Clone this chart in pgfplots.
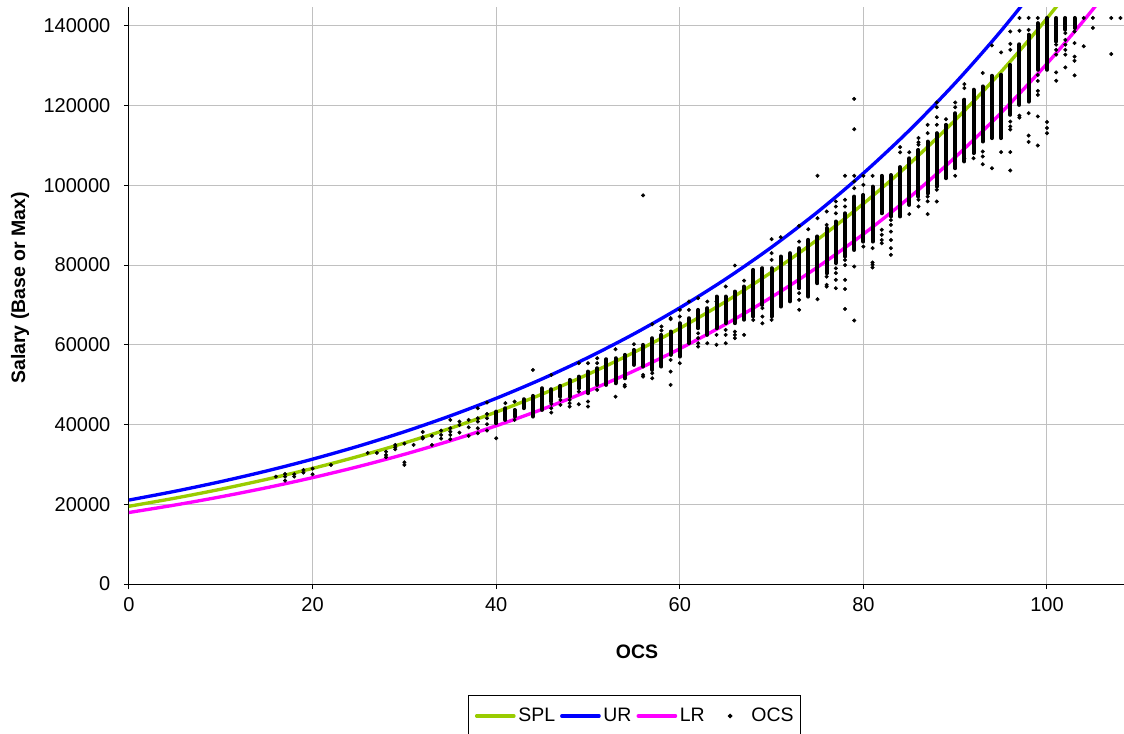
\documentclass[border=0pt]{standalone}
\usepackage{fontspec}
\setmainfont{Liberation Sans}
\usepackage{pgfplots}
\usepackage{pgfplotstable}
\pgfplotsset{compat=1.18}

\definecolor{splgreen}{HTML}{99CC00}
\definecolor{lrmagenta}{HTML}{FF00FF}
\definecolor{gridgray}{HTML}{C0C0C0}
\newcommand{\chartfont}{\fontsize{14.6}{17}\selectfont}

% pay lines, every 5 OCS
\pgfplotstableread{
x spl ur lr
0 19500 21060 17940
5 21535 23258 19812
10 23782 25685 21879
15 26263 28364 24162
20 29003 31323 26683
25 32029 34591 29467
30 35370 38200 32540
35 39060 42185 35935
40 43135 46586 39684
45 47635 51446 43824
50 52605 56813 48397
55 58093 62740 53446
60 64154 69286 59022
65 70847 76515 65179
70 78238 84497 71979
75 86400 93312 79488
80 95414 103047 87781
85 105368 113797 96939
90 116361 125670 107052
95 128500 138780 118220
100 141906 153258 130554
105 156711 169248 144174
110 173060 186905 159215
}\paylines

% solid part of each OCS column: lowest and highest salary
\pgfplotstableread{
x low high
40 40330 43250
41 41160 44090
42 41990 43670
43 44100 46350
44 42000 47190
45 43670 49110
46 45760 48860
47 47000 49700
48 47000 51200
49 49110 52030
50 47860 53300
51 49950 54130
52 49950 56390
53 50360 56640
54 51600 57480
55 54970 58730
56 54550 59990
57 53700 61660
58 54550 62500
59 57480 63340
60 57060 65425
61 60400 66680
62 64170 68770
63 62500 69200
64 64170 72120
65 65430 72120
66 65430 73370
67 66300 74630
68 67100 78800
69 70000 79230
70 67100 79230
71 69600 82160
72 70900 83000
73 74200 84250
74 72100 86350
75 75450 87200
76 77950 89300
77 80500 90950
78 82150 93000
79 83800 97200
80 85900 97600
81 85900 99700
82 93000 102400
83 92200 102600
84 92200 104600
85 95100 106800
86 97200 108900
87 98000 111000
88 99700 113100
89 101800 115200
90 104300 118100
91 106000 121500
92 108100 124000
93 111000 124830
94 111850 127500
95 111850 127760
96 117700 130230
97 120200 135400
98 121000 137800
99 129000 140700
100 129000 142000
101 136100 142000
102 139050 142000
103 139470 142000
}\ocscols

\begin{document}
\begin{tikzpicture}
\useasboundingbox (-96.75pt,-111.75pt) rectangle (746.25pt,438pt);
\begin{axis}[
    scale only axis,
    width=746.25pt, height=432.75pt,
    xmin=0, xmax=108.39,
    ymin=0, ymax=144750,
    axis x line*=bottom, axis y line*=left,
    axis line style={-, black, line width=0.75pt},
    xtick={0,20,40,60,80,100},
    ytick={0,20000,40000,60000,80000,100000,120000,140000},
    xticklabels={0,20,40,60,80,100},
    yticklabels={0,20000,40000,60000,80000,100000,120000,140000},
    scaled y ticks=false,
    tick align=outside, tick style={black, line width=0.75pt},
    major tick length=3.75pt,
    grid=major,
    grid style={gridgray, line width=0.75pt},
    tick label style={font=\fontsize{15}{17}\selectfont},
    xticklabel style={yshift=-3pt},
    yticklabel style={xshift=-6.75pt},
    xlabel={\bfseries OCS}, ylabel={\bfseries Salary (Base or Max)},
    label style={font=\chartfont},
    xlabel style={at={(rel axis cs:0.5106,-0.118)}, anchor=center},
    ylabel style={at={(rel axis cs:-0.1095,0.513)}, anchor=center},
    legend columns=4,
    legend style={
        at={(rel axis cs:0.508,-0.1924)}, anchor=north,
        draw=black, line width=0.75pt, font=\chartfont,
        inner xsep=3pt, inner ysep=7.5pt,
    },
    legend image code/.code={
        \path[draw=none, fill=none] (-3pt,-1pt) rectangle (28pt,1pt);
        \draw[mark repeat=2, mark phase=2, #1]
            plot coordinates {(0pt,0pt) (14pt,0pt) (28pt,0pt)};
    },
]
\addplot[splgreen, line width=2.5pt, smooth, line cap=round] table[x=x, y=spl] {\paylines};
\addlegendentry{SPL}
\addplot[blue, line width=2.5pt, smooth, line cap=round] table[x=x, y=ur] {\paylines};
\addlegendentry{UR}
\addplot[lrmagenta, line width=2.5pt, smooth, line cap=round] table[x=x, y=lr] {\paylines};
\addlegendentry{LR}

\addplot[forget plot, draw=none, mark=none,
    error bars/.cd, y dir=plus, y explicit, error mark=none,
    error bar style={black, solid, line width=3pt, line cap=round}]
    table[x=x, y=low, y error expr=\thisrow{high}-\thisrow{low}] {\ocscols};

\addplot[only marks, mark=*, mark size=1.3pt, black] coordinates {
(16,26940)(17,27600)(17,26940)(17,25940)(18,27530)(18,26940)(19,28600)(19,27940)
(20,28950)(20,27530)(22,29870)(26,32880)(27,32880)(28,33200)(28,32380)(28,31800)
(29,34890)(29,34300)(29,33800)(30,35220)(30,30540)(30,29870)(31,34890)
(32,38150)(32,36810)(32,36480)(33,37150)(33,34890)(34,38490)(34,37400)(34,36480)
(35,41160)(35,39070)(35,38230)(35,37400)(35,36310)(36,40740)(36,39900)(36,37980)
(37,41160)(37,39320)(37,37150)(38,44090)(38,41580)(38,40740)(38,39070)(38,37810)
(39,45515)(39,42670)(39,41580)(39,40080)(39,38490)(40,36560)(41,45350)
(42,45760)(42,41160)(44,53700)(46,52460)(46,45180)(46,44100)(46,43000)
(47,46180)(47,44930)(48,46180)(48,45350)(48,44510)(49,55400)(49,48270)(49,45100)
(50,55400)(50,45760)(50,44510)(51,56640)(51,55400)(51,48690)(53,58900)(53,47000)
(54,49950)(54,49530)(55,60150)(56,97500)(56,52450)(56,52030)(57,65175)(57,52880)(57,51600)
(58,64590)(58,63600)(59,66430)(59,66680)(59,56220)(59,53300)(59,49950)
(60,68770)(60,67100)(60,55400)(61,70860)(61,68770)
(62,71700)(62,62900)(62,61700)(62,60400)(62,59570)(63,70860)(63,60400)
(64,70860)(64,62500)(64,60000)(65,74630)(65,63750)(65,62500)(65,60400)
(66,79900)(66,63300)(66,62500)(66,61660)(67,76100)(67,62500)(68,66250)
(69,69200)(69,67100)(69,65400)(70,86500)(70,83000)(70,81300)(70,66250)(71,87000)
(73,89850)(73,85900)(73,72950)(73,71300)(73,68800)(74,89000)
(75,102400)(75,91780)(75,71450)(76,93450)(76,90100)(76,77100)(76,75050)(76,74600)
(77,95960)(77,94700)(77,93000)(77,79200)(77,78000)(77,76300)(77,74200)
(78,102400)(78,96400)(78,94700)(78,81300)(78,80000)(78,76300)(78,74000)(78,69000)
(79,121700)(79,114100)(79,102400)(79,101000)(79,99300)(79,79650)(79,66100)
(80,102400)(80,100150)(80,84650)(81,102400)(81,84250)(81,80650)(81,80100)(81,79400)
(82,88850)(82,87600)(82,86300)(82,85500)
(83,91300)(83,90100)(83,88400)(83,86300)(83,84250)(83,82580)
(84,109600)(84,108300)(85,108300)(85,92800)
(86,111900)(86,110800)(86,110200)(86,96400)(86,94700)
(87,115200)(87,113100)(87,97200)(87,96000)(87,92800)
(88,120800)(88,119600)(88,117100)(88,115200)(88,98900)(88,95960)
(89,116600)(90,120800)(90,119600)(90,102400)
(91,125400)(91,124400)(91,106700)(92,106800)
(93,128200)(93,108500)(93,107250)(93,105300)(94,135100)(94,104300)
(95,133360)(95,108350)(96,138600)(96,135500)(96,134000)(96,116000)(96,114800)(96,114000)(96,108350)(96,103750)
(97,142000)(97,138800)(97,117500)(97,117000)
(98,142000)(98,139000)(98,118100)(98,112500)(98,110900)
(99,142000)(99,127700)(99,126200)(99,123700)(99,122700)(99,117300)(99,110000)
(100,115900)(100,114400)(100,113100)
(101,135300)(101,134000)(101,132800)(101,128340)(101,126250)
(102,138200)(102,136500)(102,135300)(102,134000)(102,132800)(102,129600)
(103,138600)(103,135700)(103,132300)(103,131250)(103,127600)
(104,142000)(104,134900)(105,142000)(105,139500)(107,142000)(107,132950)(108,142000)
};
\addlegendentry{OCS}
\end{axis}
\end{tikzpicture}
\end{document}
